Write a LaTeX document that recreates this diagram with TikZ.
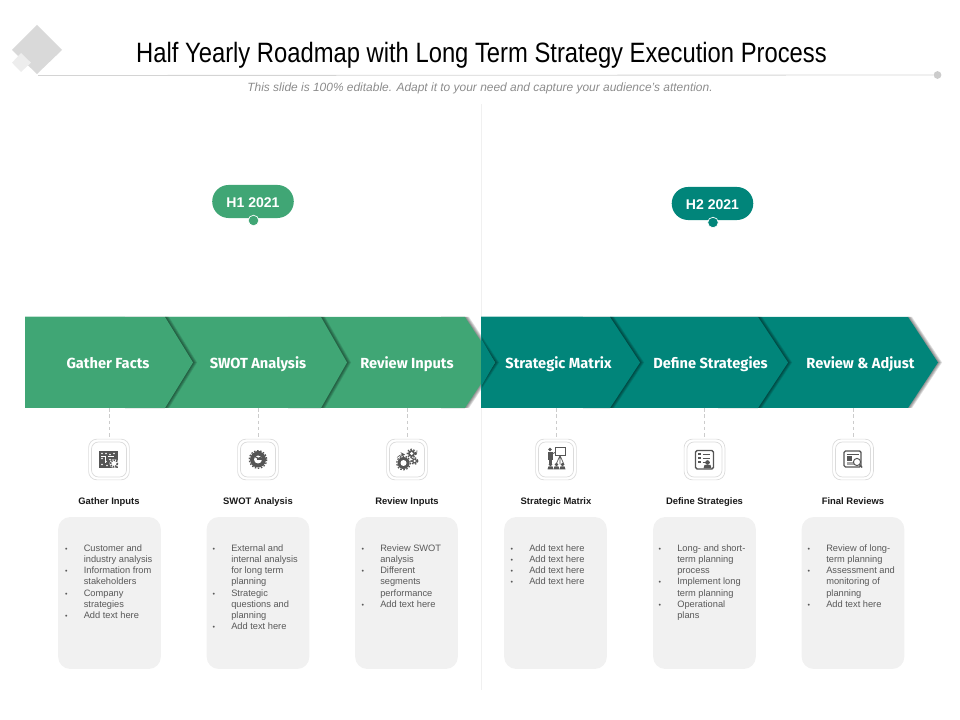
\documentclass[tikz,border=0pt]{standalone}
\usepackage{fontspec}
\setmainfont{Liberation Sans}
\newfontfamily\titlefont[FakeStretch=0.85]{Liberation Sans}
\newfontfamily\chevfont{Fira Sans}
\definecolor{leafgreen}{HTML}{40A675}
\definecolor{deepteal}{HTML}{01857A}
\definecolor{icongray}{HTML}{555555}
\definecolor{panelgray}{HTML}{F1F1F1}
\tikzset{>=stealth,
    pill/.style = {fill=#1, rounded corners=11.7pt, minimum width=58pt, minimum height=23.5pt, text=white, text height=9.2pt, text depth=0pt, font=\bfseries\fontsize{10}{12}\selectfont},
    pin/.style = {circle, fill=#1, draw=white, line width=0.5pt, minimum size=7.5pt, inner sep=0pt},
    chevlabel/.style = {anchor=base, text=white, font=\chevfont\bfseries\fontsize{10.4}{12}\selectfont},
    iconbox/.style = {draw=black!14, line width=0.5pt, rounded corners=6pt, minimum size=29pt, inner sep=0pt},
    iconinner/.style = {draw=black!14, line width=0.5pt, rounded corners=5pt, minimum size=24.9pt, inner sep=0pt},
    droplink/.style = {draw=black!20, line width=0.4pt, dashed, dash pattern=on 2.5pt off 2pt},
    heading/.style = {anchor=base, text=black!90, font=\bfseries\fontsize{6.7}{8}\selectfont},
    panel/.style = {fill=panelgray, rounded corners=8.5pt, minimum width=73pt, minimum height=108pt, inner sep=0pt},
    panelbody/.style = {anchor=north west, inner sep=0pt, align=left, text=black!65, font=\fontsize{6.6}{8}\selectfont}
}
\newcommand{\bul}{\leavevmode\llap{{\fontsize{5}{5}\selectfont •}\hspace{11.6pt}}}
\newcommand{\cog}[3]{%
    \fill[icongray] (#1,#2) circle (#3);
    \draw[icongray, line width=0.9pt, dash pattern=on 1.1pt off 1.1pt] (#1,#2) circle (#3+0.8);
    \fill[white] (#1,#2) circle (#3*0.5);
}
\begin{document}
\begin{tikzpicture}[x=0.025cm, y=-0.025cm]
    \useasboundingbox (0,0) rectangle (960,720);

    \draw[black!6, line width=0.6pt] (481.5,104) -- (481.5,690);
    \fill[black!15] (37,25) -- (62,50) -- (37,74) -- (12,50) -- cycle;
    \fill[black!7] (21,53) -- (31,62.7) -- (21,72) -- (12,62.7) -- cycle;
    \node[circle, fill=black!20, minimum size=5.5pt, inner sep=0pt] (ruleEnd) at (937.5,75) {};
    \coordinate (ruleStart) at (38,75.5);
    \draw[black!17, line width=0.6pt] (ruleStart) -- (ruleEnd);
    \node (title) at (481.5,55) {\titlefont\fontsize{19.9}{24}\selectfont Half Yearly Roadmap with Long Term Strategy Execution Process};
    \node[text=black!45, font=\itshape\fontsize{8.5}{10}\selectfont] (subtitle) at (480,88) {This slide is 100\% editable. Adapt it to your need and capture your audience’s attention.};

    \node[pill=leafgreen] (hOne) at (253,201.5) {H1 2021};
    \node[pin=leafgreen] (hOnePin) at (253.5,220.5) {};
    \node[pill=deepteal] (hTwo) at (712.5,203.5) {H2 2021};
    \node[pin=deepteal] (hTwoPin) at (713,222.5) {};

    \foreach \corner/\tip/\tab/\start/\shade in {908/938/908/481/deepteal, 758/788/718/481/deepteal, 610/640/583/481/deepteal, 465/495/441/25/leafgreen, 321/347/288/25/leafgreen, 165/193/125/25/leafgreen}{
        \fill[black!8] (\tab,315.8) rectangle (\corner,317);
        \fill[black!8] (\tab,408) rectangle (\corner,409.2);
        \foreach \off in {1,2,3,4}{
            \fill[black, opacity=0.13] (\corner+\off,317) -- (\tip+\off,362.5) -- (\corner+\off,408) -- (\corner,408) -- (\corner,317) -- cycle;
        }
        \fill[\shade] (\start,317) -- (\corner,317) -- (\tip,362.5) -- (\corner,408) -- (\start,408) -- cycle;
    }
    \fill[deepteal] (481,317) rectangle (481.5,408);
    \fill[deepteal] (481,338.2) -- (495,362.5) -- (481,386.8) -- cycle;

    \foreach \n/\lx/\ix/\txt in {1/108/109/Gather Facts, 2/258/258/SWOT Analysis, 3/407/407/Review Inputs, 4/558.5/556/Strategic Matrix, 5/710.5/704.5/Define Strategies, 6/860.5/853/Review \& Adjust}{
        \node[chevlabel] (step\n) at (\lx,369) {\txt};
        \coordinate (drop\n) at (\ix,408);
        \node[iconbox] (icon\n) at (\ix,459.5) {};
        \node[iconinner] (inner\n) at (\ix,459.5) {};
        \draw[droplink] (drop\n) -- (icon\n.north);
    }

    \foreach \n/\ix/\bx/\tx/\hd/\body in {
        1/109/109.5/83.5/Gather Inputs/{\bul Customer and\\industry analysis\\\bul Information from\\stakeholders\\\bul Company\\strategies\\\bul Add text here},
        2/258/258/231/SWOT Analysis/{\bul External and\\internal analysis\\for long term\\planning\\\bul Strategic\\questions and\\planning\\\bul Add text here},
        3/407/406.5/380/Review Inputs/{\bul Review SWOT\\analysis\\\bul Different\\segments\\performance\\\bul Add text here},
        4/556/555.5/529/Strategic Matrix/{\bul Add text here\\\bul Add text here\\\bul Add text here\\\bul Add text here},
        5/704.5/704.5/677/Define Strategies/{\bul Long- and short-\\term planning\\process\\\bul Implement long\\term planning\\\bul Operational\\plans},
        6/853/853/826/Final Reviews/{\bul Review of long-\\term planning\\\bul Assessment and\\monitoring of\\planning\\\bul Add text here}}{
        \node[heading] (head\n) at (\ix,504.5) {\hd};
        \node[panel] (panel\n) at (\bx,593) {};
        \node[panelbody] (body\n) at (\tx,544) {\body};
    }

    \begin{scope}[shift={(109,459.5)}]
        \fill[icongray] (-10,-8.5) rectangle (9,8.5);
        \foreach \a/\b in {-7/-6, -3/-6, 1/-5, 5/-6, -7/-1, -3/2, -7/5, -2/6, 1/0}{
            \fill[white] (\a,\b) circle (0.9);
        }
        \draw[white, line width=0.4pt] (-8,-3) -- (-4,-3) -- (-4,4) (-1,-3) -- (5,-3);
        \fill[white] (5,4) circle (4.6);
        \draw[icongray, line width=1.2pt, dash pattern=on 1pt off 0.8pt] (5,4) circle (3.4);
    \end{scope}

    \begin{scope}[shift={(258,459.5)}]
        \cog{0}{0}{8}
        \draw[icongray, line width=0.7pt] (0,0) circle (5.5);
        \draw[icongray, line width=0.8pt] (3,-2.5) arc (40:300:3.5);
        \fill[icongray] (-1,-1) rectangle (5,1);
    \end{scope}

    \begin{scope}[shift={(407,459.5)}]
        \cog{-3.5}{3.5}{6}
        \cog{4.5}{-6}{3.5}
        \cog{7.5}{1.5}{2.5}
        \draw[icongray, line width=0.4pt, ->] (-10,-2) .. controls (-8,-4) and (-6,-5) .. (-2,-5);
        \draw[icongray, line width=0.5pt] (10,-9) -- (9.5,-5);
    \end{scope}

    \begin{scope}[shift={(556,459.5)}]
        \fill[icongray] (-6,-10) circle (1.8);
        \fill[icongray] (-8.5,-7.5) rectangle (-3.5,1);
        \fill[icongray] (-7.5,1) rectangle (-4.5,6);
        \draw[icongray, line width=0.6pt, fill=white] (-1,-12) rectangle (9,-4);
        \draw[icongray, line width=0.5pt] (4,-4) -- (0,5) (4,-4) -- (8,5) (4,-4) -- (4,5) (-3,-6) -- (-1,-7);
        \foreach \a in {-5.5,0.5,6.5}{
            \fill[icongray] (\a,5) circle (1.8);
            \fill[icongray] (\a-3,10) -- (\a-2,6.8) -- (\a+2,6.8) -- (\a+3,10) -- cycle;
        }
    \end{scope}

    \begin{scope}[shift={(704.5,459.5)}]
        \draw[icongray, line width=1pt, rounded corners=1.2pt] (-9,-9) rectangle (9,9.5);
        \foreach \b in {-5,-1,3}{
            \fill[icongray] (-6.5,\b-1) rectangle (-4,\b+1);
            \draw[icongray, line width=0.7pt] (-2,\b) -- (5.5,\b);
        }
        \fill[icongray] (3,3) circle (2.3);
        \fill[icongray] (-1,9) -- (0,5.5) -- (6,5.5) -- (7,9) -- cycle;
    \end{scope}

    \begin{scope}[shift={(853,459.5)}]
        \draw[icongray, line width=0.9pt, rounded corners=1pt] (-9,-8.5) rectangle (8,7.5);
        \draw[icongray, line width=0.7pt] (-6.5,-5.5) -- (5.5,-5.5);
        \fill[icongray] (-6.5,-3.5) rectangle (-1,1.5);
        \fill[black!35] (-6.5,2.5) rectangle (1,5.5);
        \draw[icongray, line width=0.7pt, fill=white] (4,2.5) circle (3.6);
        \draw[icongray, line width=1pt] (6.5,5) -- (9,8);
    \end{scope}
\end{tikzpicture}
\end{document}
